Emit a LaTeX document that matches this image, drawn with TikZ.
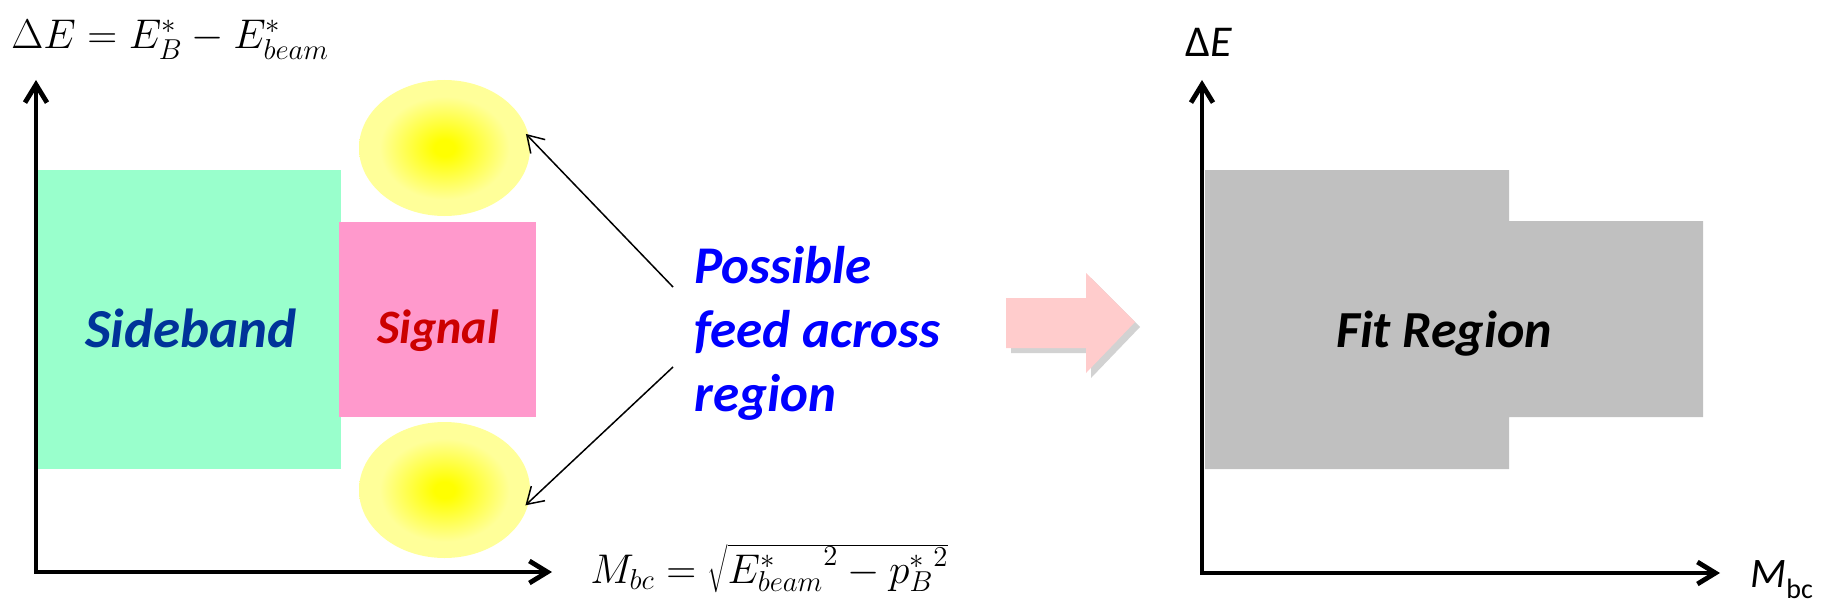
\documentclass[tikz,border=0pt]{standalone}
\usepackage[no-math]{fontspec}
\setmainfont{Carlito}
\usetikzlibrary{arrows.meta,shapes.geometric,shadows}

\definecolor{sidegreen}{HTML}{99FFCC}
\definecolor{sigpink}{HTML}{FF99CC}
\definecolor{sidetext}{HTML}{003399}
\definecolor{sigtext}{HTML}{CC0000}
\definecolor{feedblue}{HTML}{0000FF}
\definecolor{fitgray}{HTML}{C0C0C0}
\definecolor{arrowpink}{HTML}{FFCCCC}
\definecolor{blobyellow}{HTML}{FFFF99}

\pgfdeclareradialshading{blobshade}{\pgfpoint{0bp}{0bp}}{%
    color(0bp)=(yellow); color(3bp)=(yellow);
    color(19bp)=(blobyellow); color(50bp)=(blobyellow)}

\tikzset{
    axisline/.style={line width=2.4pt,-{Straight Barb[length=9pt,width=11pt]}},
    feedarrow/.style={line width=0.75pt,shorten >=-2.5pt,-{Straight Barb[length=8pt,width=10pt]}},
    blob/.style={ellipse,minimum width=85.5pt,minimum height=68pt,inner sep=0pt,
        shading=blobshade},
    regionlabel/.style={inner sep=0pt,anchor=base,font=\bfseries\itshape},
    axislabel/.style={inner sep=0pt,anchor=base west,font=\fontsize{22}{26}\selectfont},
    formula/.style={inner sep=0pt,anchor=base west,font=\huge}
}

\begin{document}
\begin{tikzpicture}[x=0.5pt,y=-0.5pt]
    \useasboundingbox (0,0) rectangle (1823,610);

    % left plot: sideband and signal boxes
    \fill[sidegreen] (38,170) rectangle (341,469);
    \fill[sigpink] (339,222) rectangle (536,417);
    \node[blob] (upblob) at (444.5,148) {};
    \node[blob] (lowblob) at (444.5,490) {};

    \node[regionlabel,text=sidetext,font=\fontsize{27.5}{32}\selectfont\bfseries\itshape]
        (sidelabel) at (191,347) {Sideband};
    \node[regionlabel,text=sigtext,font=\fontsize{24}{28}\selectfont\bfseries\itshape]
        (siglabel) at (438,343) {Signal};

    \coordinate (lorigin) at (36,572);
    \draw[axisline] (lorigin) -- (36,80);
    \draw[axisline] (34,572) -- (552,572);
    \node[formula] (deformula) at (11,49) {$\Delta E = E_B^{*} - E_{beam}^{*}$};
    \node[formula] (mbcformula) at (590,583)
        {$M_{bc} = \sqrt{{E_{beam}^{*}}^{2} - {p_{B}^{*}}^{2}}$};

    % feed across
    \node[inner sep=0pt,anchor=north west,align=left,text=feedblue,
        font=\fontsize{26.5}{32}\selectfont\bfseries\itshape]
        (feedtext) at (694,246) {Possible\\feed across\\region};
    \coordinate (feedup) at (673,287);
    \coordinate (feedlow) at (673,367);
    \draw[feedarrow] (feedup) -- (upblob.7);
    \draw[feedarrow] (feedlow) -- (lowblob.-8);

    % big arrow
    \fill[arrowpink,drop shadow={shadow xshift=2.5pt,shadow yshift=-2.5pt,opacity=0.25,fill=black!70}]
        (1006,298) -- (1086,298) -- (1086,273) -- (1135,322) -- (1086,373)
        -- (1086,348) -- (1006,348) -- cycle;

    % right plot: fit region
    \fill[fitgray] (1205,170) -- (1509,170) -- (1509,221) -- (1703,221)
        -- (1703,417) -- (1509,417) -- (1509,469) -- (1205,469) -- cycle;
    \node[regionlabel,font=\fontsize{26}{32}\selectfont\bfseries\itshape]
        (fitlabel) at (1444,347) {Fit Region};

    \coordinate (rorigin) at (1202,573);
    \draw[axisline] (rorigin) -- (1202,80);
    \draw[axisline] (1200,573) -- (1720,573);
    \node[axislabel] (delabel) at (1185,57) {Δ\textit{E}};
    \node[axislabel,font=\fontsize{21}{25}\selectfont] (mbclabel) at (1750,587)
        {\textit{M}\raisebox{-5.5pt}{\fontsize{14}{16}\selectfont bc}};
\end{tikzpicture}
\end{document}
